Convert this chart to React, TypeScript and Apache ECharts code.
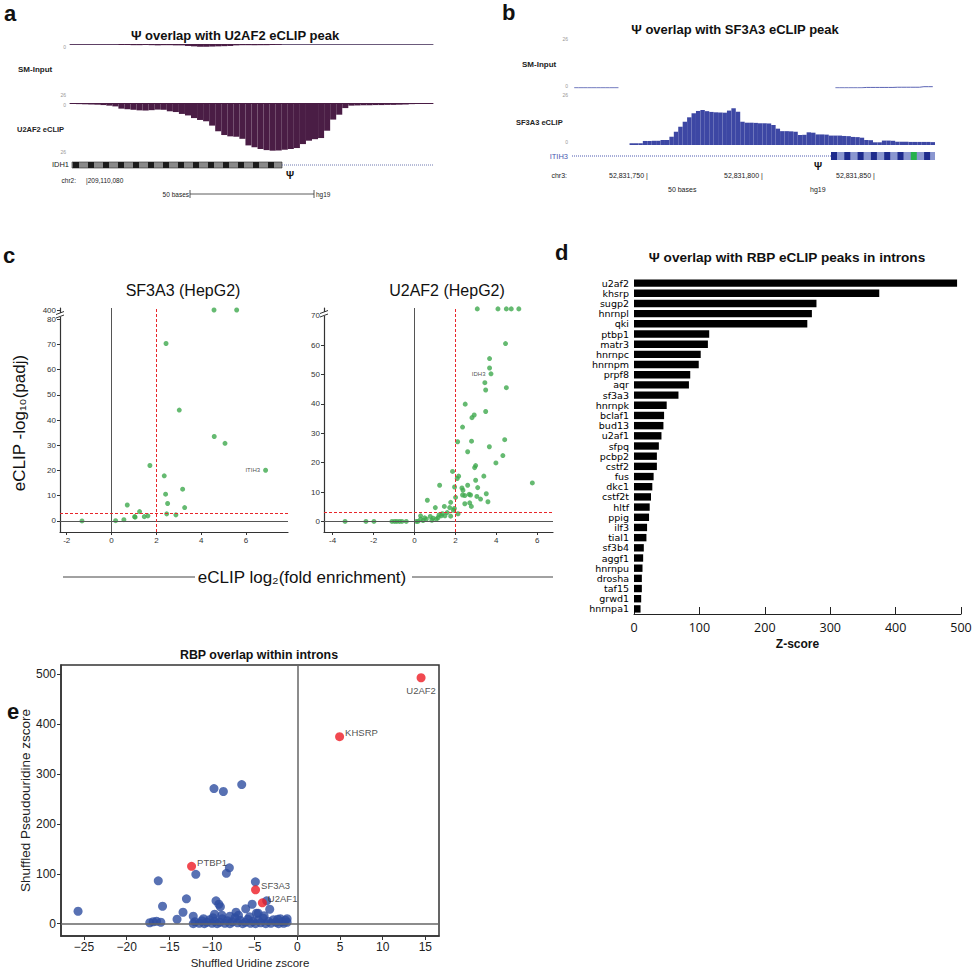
import React, { useEffect, useRef } from "react";
import * as echarts from "echarts";

const W = 975;
const H = 971;
const ARIAL = "'Liberation Sans', Arial, Helvetica, sans-serif";
const MYRIAD = "'Open Sans', 'Noto Sans', sans-serif";
const WIDE = "'DejaVu Sans', Verdana, sans-serif";
const GREEN = "#3fa94e";

// ---------- Panel a: U2AF2 browser tracks (read depth per 2-base bin, scale 0-26) ----------
const aInputDepth = [
  0.2, 0.2, 0.2, 0.2, 0.2, 0.2, 0.2, 0.2,
  0.5, 0.5, 0.6, 0.6, 0.5, 0.6, 0.7, 0.6, 0.6, 0.7, 0.7,
  1.0, 1.2, 1.4, 1.4, 1.3, 1.2, 1.1, 1.0,
  0.7, 0.6, 0.6, 0.7, 0.6, 0.6, 0.5, 0.4,
  0, 0, 0, 0, 0, 0, 0, 0, 0, 0, 0, 0, 0, 0, 0, 0, 0, 0, 0, 0, 0, 0, 0, 0, 0,
];
const aClipDepth = [
  0.5, 0.6, 0.7, 0.8, 0.9, 1.1, 1.4, 1.8, 3.0, 3.3,
  3.6, 3.9, 4.0, 3.8, 3.5, 3.6, 4.4, 4.8, 5.8, 6.6,
  8.0, 9.0, 9.7, 12.0, 15.0, 17.0, 17.7, 17.9, 19.0, 22.5,
  23.5, 24.4, 25.0, 25.3, 25.2, 24.8, 24.4, 23.9, 21.8, 20.0,
  19.2, 18.6, 14.7, 8.8, 6.2, 2.7, 1.4, 1.3, 1.2, 1.2,
  1.1, 1.1, 1.0, 1.0, 0.9, 0.8, 0.6, 0.5, 0.2, 0.1,
];

// ---------- Panel b: SF3A3 browser tracks ----------
const N = null;
const bInputSignal = [
  0.1, 0.1, 0.1, 0.1, 0.1, 0.1, 0.1, 0.1, 0.1, 0.1, 0.1,
  N, N, N, N, N, N, N, N, N, N, N, N, N, N, N, N, N, N, N, N, N, N, N, N,
  N, N, N, N, N, N, N, N, N, N, N, N, N, N, N, N, N, N, N, N, N, N, N, N,
  0.1, 0.1, 0.1, 0.1, 0.1, 0.1, 0.1, 0.3, 0.3, 0.3, 0.3, 0.3, 0.3, 0.3,
  0.4, 0.4, 0.4, 0.4, 0.4, 0.4, 0.7, 0.7, 0.7,
];
const bClipSignal = [
  N, N, N, N, N, N, N, N, N, N, N, N, N,
  0.9, 0.9, 0.9, 2.1, 2.1, 2.2, 2.2, 2.6, 2.6,
  4.3, 6.9, 9.5, 12.1, 14.4, 16.5, 17.7, 18.2, 17.6, 17.2, 17.0, 16.9, 16.8, 17.9, 19.1, 17.3, 12.1,
  11.6, 11.6, 11.5, 11.3, 11.3, 11.2, 10.4, 8.5, 7.2, 7.2, 7.1, 6.9, 5.2, 5.3, 6.6, 6.4,
  5.5, 5.5, 5.4, 4.9, 4.9, 4.9, 4.7, 4.6, 4.2, 4.1, 3.8, 2.6, 2.5, 1.4, 1.4,
  2.3, 2.3, 2.2, 1.7, 1.7, 1.7, 1.6, 1.6, 1.6, 1.6, 1.6, 1.5,
];

// ---------- Panel c: volcano plots ----------
const sf3a3Fold = [4.57, 5.58, 2.43, 3.02, 4.58, 5.06, 6.87, 1.71, 2.35, 3.17, 2.41, 0.70, 2.50, 3.26, 1.25, 2.46, 2.87, 1.03, 1.46, 1.62, 0.55, 0.18, -1.32, 1.05];
const sf3a3Padj = [400, 400, 70.4, 44.0, 33.5, 30.8, 20.1, 22.0, 17.9, 12.6, 10.6, 6.3, 6.9, 5.3, 3.7, 2.8, 2.4, 1.7, 1.7, 2.0, 0.5, 0.1, 0, 1.5];
const sf3a3LabelIndex = 6; // ITIH3
const u2af2Fold = [
  3.07, 4.08, 4.49, 4.73, 5.10, 4.45, 3.67, 3.67, 3.74, 3.44, 3.48, 4.49, 2.48, 3.48, 2.92, 2.81, 2.35, 2.11, 2.79, 4.41,
  3.66, 2.60, 4.32, 3.98, 2.99, 2.94, 1.86, 2.16, 2.09, 3.39, 2.99, 5.76, 1.23, 2.60, 3.09, 1.96, 2.32, 2.37, 3.51, 2.67,
  2.35, 2.46, 2.74, 3.05, 3.23, 3.59, 0.63, 2.01, 2.70, 2.78, 2.46, 1.77, 1.46, 1.02, 1.72, 1.95, 2.13, 1.77, 1.49, 1.31,
  1.15, 0.91, 0.77, 0.58, 0.30, 0.42, 0.17, 0.09, 1.36, 1.07, 0.30, -3.39, -2.37, -1.98, -1.10, -0.97, -0.86, -0.73, -0.61, -0.40,
  0.5, 1.9, 1.6, 0.85, 1.2,
];
const u2af2Padj = [
  400, 400, 400, 400, 400, 60.5, 55.4, 52.2, 50.2, 47.2, 44.7, 45.5, 39.9, 37.4, 36.2, 35.3, 32.1, 27.1, 27.3, 27.8,
  25.4, 23.7, 22.4, 19.9, 19.0, 18.3, 17.0, 15.4, 14.6, 15.4, 14.0, 13.1, 12.3, 12.3, 11.5, 11.7, 11.4, 10.6, 9.4, 9.2,
  9.0, 8.8, 9.0, 8.5, 7.6, 6.7, 7.2, 8.2, 6.3, 5.1, 6.0, 6.5, 5.1, 4.7, 4.7, 4.4, 2.6, 1.8, 1.9, 1.9,
  1.25, 1.1, 1.7, 0.8, 0.8, 0.3, 0, 0, 2.6, 0.8, 1.9, 0, 0, 0, 0, 0, 0, 0, 0, 0,
  1.2, 3.8, 3.0, 0.4, 2.2,
];
const u2af2LabelIndex = 8; // IDH3
const foldTicksLeft = [-2, 0, 2, 4, 6];
const foldTicksRight = [-4, -2, 0, 2, 4, 6];
const padjTicksLeft = [0, 10, 20, 30, 40, 50, 60, 70, 80];
const padjTicksRight = [0, 10, 20, 30, 40, 50, 60, 70];
const padjBreakValue = 400;

// ---------- Panel d: bar chart ----------
const rbpNames = [
  "u2af2", "khsrp", "sugp2", "hnrnpl", "qki", "ptbp1", "matr3", "hnrnpc", "hnrnpm", "prpf8", "aqr",
  "sf3a3", "hnrnpk", "bclaf1", "bud13", "u2af1", "sfpq", "pcbp2", "cstf2", "fus", "dkc1", "cstf2t",
  "hltf", "ppig", "ilf3", "tial1", "sf3b4", "aggf1", "hnrnpu", "drosha", "taf15", "grwd1", "hnrnpa1",
];
const rbpZ = [
  494, 375, 279, 272, 265, 115, 113, 102, 99, 86, 84,
  68, 50, 46, 45, 42, 38, 35, 35, 30, 28, 26,
  24, 23, 20, 19, 15, 14, 13, 12, 12, 11, 10,
];

// ---------- Panel e: scatter ----------
const blueUridine = [
  -9.77, -8.67, -6.52, -7.97, -8.32, -11.9, -16.3, -4.92, -13.0, -9.53, -9.02, -15.8, -25.7, -13.4, -14.1, -5.3,
  -6.05, -3.6, -3.24, -7.19, -4.8, -9.7, -12.2, -9.2, -8.85, -7.9, -4.6,
  -17.3, -16.9, -16.5, -16.0, -12.2, -12.0, -11.5, -11.2, -10.9, -10.6, -10.3, -10.0, -9.7, -9.4, -9.1, -8.8,
  -8.5, -8.2, -7.9, -7.6, -7.3, -7.0, -6.7, -6.4, -6.1, -5.8, -5.5, -5.2, -4.9, -4.6, -4.3, -4.0, -3.7, -3.4,
  -3.1, -2.8, -2.5, -2.2, -2.0, -1.8, -1.6, -1.4, -1.2, -1.2, -11.0, -9.9, -6.9, -5.6, -3.9, -2.3,
];
const bluePseudo = [
  271, 265, 279, 112, 101, 99, 86, 84, 50, 46, 34, 35, 25, 23, 9, 39,
  30, 46, 29, 23, 21, 19, 15, 39, 17, 15, 21,
  2, 4, 5, 3, 0, 4, 1, 6, 0, 3, 8, 1, 5, 0, 3, 10,
  1, 6, 0, 4, 12, 2, 7, 0, 3, 9, 1, 5, 0, 7, 2, 11, 0, 5,
  1, 8, 3, 0, 10, 4, 1, 7, 3, 10, 10, 12, 17, 14, 16, 9,
];
const redNames = ["U2AF2", "KHSRP", "PTBP1", "SF3A3", "U2AF1"];
const redUridine = [14.5, 4.95, -12.4, -4.9, -4.1];
const redPseudo = [493, 375, 115, 68, 42];
const uridineTicks = [-25, -20, -15, -10, -5, 0, 5, 10, 15];
const pseudoTicks = [0, 100, 200, 300, 400, 500];

// ---------- helpers ----------
function T(x: number, y: number, text: string, size: number, opt: any = {}) {
  return {
    type: "text",
    x,
    y,
    rotation: opt.rotation || 0,
    silent: true,
    z: 20,
    style: {
      text,
      fill: opt.fill || "#111",
      fontSize: size,
      fontFamily: opt.family || ARIAL,
      fontWeight: opt.weight || "normal",
      align: opt.align || "left",
      verticalAlign: "middle",
    },
  };
}
function L(x1: number, y1: number, x2: number, y2: number, stroke = "#333", lineWidth = 1, dash?: number[]) {
  return {
    type: "line",
    silent: true,
    z: 15,
    shape: { x1, y1, x2, y2 },
    style: { stroke, lineWidth, lineDash: dash },
  };
}
function R(x: number, y: number, w: number, h: number, fill: string, stroke?: string) {
  return {
    type: "rect",
    silent: true,
    z: 15,
    shape: { x, y, width: w, height: h },
    style: { fill, stroke: stroke || null, lineWidth: stroke ? 0.6 : 0 },
  };
}

const brk = (v: number, cap: number, pos: number) => (v > cap ? pos : v);

function buildOption(): any {
  const LEFT_BREAK = 83.7;
  const RIGHT_BREAK = 72.3;
  const idx = (arr: any[]) => arr.map((_, i) => String(i));

  const hiddenCat = (gridIndex: number, data: string[], showLine: boolean, color = "#5b3a5b") => ({
    gridIndex,
    type: "category",
    data,
    boundaryGap: true,
    axisLine: { show: showLine, onZero: true, lineStyle: { color, width: 1 } },
    axisTick: { show: false },
    axisLabel: { show: false },
    splitLine: { show: false },
  });
  const hiddenVal = (gridIndex: number, inverse: boolean) => ({
    gridIndex,
    type: "value",
    min: 0,
    max: 26,
    inverse,
    show: false,
    splitLine: { show: false },
  });

  const cAxisLine = { show: true, onZero: false, lineStyle: { color: "#333", width: 1.2 } };
  const cLabel = { fontSize: 8, color: "#333", fontFamily: ARIAL, margin: 4 };

  const cMarkLine = {
    silent: true,
    symbol: ["none", "none"],
    label: { show: false },
    animation: false,
    data: [
      { xAxis: 0, lineStyle: { color: "#555", type: "solid", width: 1 } },
      { yAxis: 0, lineStyle: { color: "#555", type: "solid", width: 1 } },
      { xAxis: 2, lineStyle: { color: "#e8262a", type: [3, 2], width: 1 } },
      { yAxis: 3, lineStyle: { color: "#e8262a", type: [3, 2], width: 1 } },
    ],
  };

  const trackText = { fill: "#222" };

  const graphics: any[] = [
    // panel letters
    T(4, 13, "a", 22, { weight: "bold" }),
    T(502, 12, "b", 22, { weight: "bold" }),
    T(3, 255, "c", 22, { weight: "bold" }),
    T(555, 252, "d", 22, { weight: "bold" }),
    T(7, 711, "e", 22, { weight: "bold" }),

    // panel a
    T(235, 35, "Ψ overlap with U2AF2 eCLIP peak", 13, { weight: "bold", align: "center" }),
    T(18, 69, "SM-Input", 8, { ...trackText, weight: "bold" }),
    T(17, 129, "U2AF2 eCLIP", 7.5, { ...trackText, weight: "bold" }),
    T(66, 47, "0", 5, { align: "right", fill: "#999" }),
    T(66, 95, "26", 5, { align: "right", fill: "#999" }),
    T(66, 105, "0", 5, { align: "right", fill: "#999" }),
    T(66, 152, "26", 5, { align: "right", fill: "#999" }),
    T(69, 164, "IDH1", 7.5, { ...trackText, align: "right" }),
    R(72, 162, 210, 6, "#8a8a8a", "#2a2a2a"),
    L(282, 165, 433, 165, "#6e78b0", 1, [1, 1]),
    T(290, 175, "Ψ", 10, { weight: "bold", align: "center" }),
    T(76, 180, "chr2:", 6.5, { ...trackText, align: "right" }),
    T(86, 180, "|209,110,080", 6.5, trackText),
    T(189, 194, "50 bases", 6.5, { ...trackText, align: "right" }),
    L(190, 194, 314, 194, "#333", 0.8),
    L(190, 190, 190, 198, "#333", 0.8),
    L(314, 190, 314, 198, "#333", 0.8),
    T(316, 194, "hg19", 6.5, trackText),

    // panel b
    T(735, 29, "Ψ overlap with SF3A3 eCLIP peak", 13, { weight: "bold", align: "center" }),
    T(522, 64, "SM-Input", 8, { ...trackText, weight: "bold" }),
    T(516, 122, "SF3A3 eCLIP", 7.5, { ...trackText, weight: "bold" }),
    T(568, 39, "26", 5, { align: "right", fill: "#999" }),
    T(568, 86, "0", 5, { align: "right", fill: "#999" }),
    T(568, 95, "26", 5, { align: "right", fill: "#999" }),
    T(568, 142, "0", 5, { align: "right", fill: "#999" }),
    T(568, 156, "ITIH3", 7.5, { align: "right", fill: "#4a58b0" }),
    L(572, 156, 831, 156, "#4e5bb0", 1, [1, 1]),
    R(831, 152, 104, 8, "#8b97d0"),
    T(818, 166, "Ψ", 10, { weight: "bold", align: "center" }),
    T(567, 175, "chr3:", 7, { ...trackText, align: "right" }),
    T(609, 175, "52,831,750 |", 7, trackText),
    T(724, 175, "52,831,800 |", 7, trackText),
    T(836, 175, "52,831,850 |", 7, trackText),
    T(668, 189, "50 bases", 7, trackText),
    T(810, 189, "hg19", 7, trackText),

    // panel c
    T(183, 290, "SF3A3 (HepG2)", 16, { align: "center" }),
    T(447, 290, "U2AF2 (HepG2)", 16, { align: "center" }),
    T(19, 423, "eCLIP -log₁₀(padj)", 17, { align: "center", rotation: Math.PI / 2 }),
    T(302, 577, "eCLIP log₂(fold enrichment)", 17, { align: "center" }),
    L(63, 577, 195, 577, "#444", 1),
    L(412, 577, 553, 577, "#444", 1),
    R(57, 313, 7, 4, "#fff"),
    L(56, 314.5, 64, 311.5, "#333", 1),
    L(56, 318, 64, 315, "#333", 1),
    R(321, 312, 7, 4, "#fff"),
    L(320, 313.5, 328, 310.5, "#333", 1),
    L(320, 317, 328, 314, "#333", 1),

    // panel d
    T(787, 257, "Ψ overlap with RBP eCLIP peaks in introns", 13.6, { weight: "bold", align: "center" }),

    // panel e
    T(259, 655, "RBP overlap within introns", 12.4, { weight: "bold", align: "center" }),
  ];

  // gene model exon pattern, panel a (14 dark codon blocks) and panel b (8 blocks)
  for (let k = 0; k < 14; k++) graphics.push(R(73 + 15 * k, 162, 6, 6, "#1c1c1c"));
  for (let k = 0; k < 8; k++) graphics.push(R(831 + 13.3 * k, 152, 6, 8, k === 6 ? "#27b14c" : "#1e2b8c"));

  return {
    animation: false,
    backgroundColor: "#fff",
    textStyle: { fontFamily: ARIAL },
    grid: [
      { left: 70, top: 44, width: 363, height: 51 },
      { left: 70, top: 103, width: 363, height: 49 },
      { left: 572, top: 39, width: 363, height: 49 },
      { left: 572, top: 95, width: 363, height: 50 },
      { left: 60, top: 308, width: 228, height: 224 },
      { left: 324, top: 308, width: 229, height: 224 },
      { left: 634, top: 278, width: 327, height: 336 },
      { left: 61, top: 665, width: 378, height: 271, show: true, borderColor: "#333", borderWidth: 1.5 },
    ],
    xAxis: [
      hiddenCat(0, idx(aInputDepth), true, "#6b5a7b"),
      hiddenCat(1, idx(aClipDepth), true, "#4a1d45"),
      hiddenCat(2, idx(bInputSignal), false),
      hiddenCat(3, idx(bClipSignal), false),
      {
        gridIndex: 4, type: "value", min: -2.3, max: 7.87,
        axisLine: cAxisLine,
        axisTick: { show: true, length: 3, customValues: foldTicksLeft, lineStyle: { color: "#333" } },
        axisLabel: { ...cLabel, customValues: foldTicksLeft },
        splitLine: { show: false },
      },
      {
        gridIndex: 5, type: "value", min: -4.42, max: 6.77,
        axisLine: cAxisLine,
        axisTick: { show: true, length: 3, customValues: foldTicksRight, lineStyle: { color: "#333" } },
        axisLabel: { ...cLabel, customValues: foldTicksRight },
        splitLine: { show: false },
      },
      {
        gridIndex: 6, type: "value", min: 0, max: 500, interval: 100,
        axisLine: { show: true, lineStyle: { color: "#222", width: 1 } },
        axisTick: { show: true, inside: true, length: 7, lineStyle: { color: "#222" } },
        axisLabel: { fontSize: 12.5, color: "#111", fontFamily: MYRIAD, margin: 7 },
        splitLine: { show: false },
        name: "Z-score", nameLocation: "middle", nameGap: 24,
        nameTextStyle: { fontSize: 12, fontWeight: "bold", color: "#111", fontFamily: ARIAL },
      },
      {
        gridIndex: 7, type: "value", min: -27.7, max: 16.6,
        axisLine: { show: true, onZero: false, lineStyle: { color: "#333", width: 1.5 } },
        axisTick: { show: true, length: 4, customValues: uridineTicks, lineStyle: { color: "#333" } },
        axisLabel: {
          customValues: uridineTicks, fontSize: 12, color: "#222", fontFamily: ARIAL, margin: 5,
          formatter: (v: number) => String(v).replace("-", "\u2212"),
        },
        splitLine: { show: false },
        name: "Shuffled Uridine zscore", nameLocation: "middle", nameGap: 21,
        nameTextStyle: { fontSize: 11.5, color: "#222", fontFamily: ARIAL },
      },
    ],
    yAxis: [
      hiddenVal(0, true),
      hiddenVal(1, true),
      hiddenVal(2, false),
      hiddenVal(3, false),
      {
        gridIndex: 4, type: "value", min: -4.4, max: 84.5,
        axisLine: cAxisLine,
        axisTick: { show: true, length: 3, customValues: [...padjTicksLeft, LEFT_BREAK], lineStyle: { color: "#333" } },
        axisLabel: {
          ...cLabel, customValues: [...padjTicksLeft, LEFT_BREAK],
          formatter: (v: number) => (v > 80.5 ? String(padjBreakValue) : String(v)),
        },
        splitLine: { show: false },
      },
      {
        gridIndex: 5, type: "value", min: -3.6, max: 72.6,
        axisLine: cAxisLine,
        axisTick: { show: true, length: 3, customValues: [...padjTicksRight, RIGHT_BREAK], lineStyle: { color: "#333" } },
        axisLabel: {
          ...cLabel, customValues: [...padjTicksRight, RIGHT_BREAK],
          formatter: (v: number) => (v > 70.5 ? String(padjBreakValue) : String(v)),
        },
        splitLine: { show: false },
      },
      {
        gridIndex: 6, type: "category", data: rbpNames, inverse: true,
        axisLine: { show: false }, axisTick: { show: false },
        axisLabel: { interval: 0, fontSize: 9.5, color: "#000", fontFamily: WIDE, margin: 5, lineHeight: 10 },
      },
      {
        gridIndex: 7, type: "value", min: -24.6, max: 518.6,
        axisLine: { show: true, onZero: false, lineStyle: { color: "#333", width: 1.5 } },
        axisTick: { show: true, length: 4, customValues: pseudoTicks, lineStyle: { color: "#333" } },
        axisLabel: { customValues: pseudoTicks, fontSize: 12, color: "#222", fontFamily: ARIAL, margin: 5 },
        splitLine: { show: false },
        name: "Shuffled Pseudouridine zscore", nameLocation: "middle", nameGap: 28,
        nameTextStyle: { fontSize: 13.5, color: "#222", fontFamily: ARIAL },
      },
    ],
    series: [
      {
        type: "bar", xAxisIndex: 0, yAxisIndex: 0, data: aInputDepth,
        barCategoryGap: "0%", barGap: "0%", itemStyle: { color: "#4a1d45" }, silent: true,
      },
      {
        type: "bar", xAxisIndex: 1, yAxisIndex: 1, data: aClipDepth,
        barCategoryGap: "0%", barGap: "0%", itemStyle: { color: "#4a1d45" }, silent: true,
      },
      {
        type: "line", xAxisIndex: 2, yAxisIndex: 2, data: bInputSignal, connectNulls: false,
        symbol: "none", lineStyle: { color: "#5b64b4", width: 1 }, silent: true,
      },
      {
        type: "bar", xAxisIndex: 3, yAxisIndex: 3, data: bClipSignal,
        barCategoryGap: "0%", barGap: "0%", itemStyle: { color: "#3d47a4" }, silent: true,
      },
      {
        type: "scatter", xAxisIndex: 4, yAxisIndex: 4, symbolSize: 5, itemStyle: { color: GREEN },
        data: sf3a3Fold.map((x, i) => ({
          value: [x, brk(sf3a3Padj[i], 80, LEFT_BREAK)],
          label: i === sf3a3LabelIndex
            ? { show: true, formatter: "ITIH3", position: "left", distance: 3, fontSize: 6, color: "#222", fontFamily: ARIAL }
            : { show: false },
        })),
        markLine: cMarkLine,
        z: 3,
      },
      {
        type: "scatter", xAxisIndex: 5, yAxisIndex: 5, symbolSize: 5, itemStyle: { color: GREEN },
        data: u2af2Fold.map((x, i) => ({
          value: [x, brk(u2af2Padj[i], 70, RIGHT_BREAK)],
          label: i === u2af2LabelIndex
            ? { show: true, formatter: "IDH3", position: "left", distance: 3, fontSize: 6, color: "#222", fontFamily: ARIAL }
            : { show: false },
        })),
        markLine: cMarkLine,
        z: 3,
      },
      {
        type: "bar", xAxisIndex: 6, yAxisIndex: 6, data: rbpZ,
        barWidth: 7.4, itemStyle: { color: "#000" }, silent: true,
      },
      {
        type: "scatter", xAxisIndex: 7, yAxisIndex: 7, symbolSize: 9,
        itemStyle: { color: "#2e4ea0" },
        data: blueUridine.map((x, i) => [x, bluePseudo[i]]),
        markLine: {
          silent: true, symbol: ["none", "none"], label: { show: false }, animation: false,
          lineStyle: { color: "#666", type: "solid", width: 1.5 },
          data: [{ xAxis: 0 }, { yAxis: 0 }],
        },
        z: 2,
      },
      {
        type: "scatter", xAxisIndex: 7, yAxisIndex: 7, symbolSize: 9,
        itemStyle: { color: "#ee1c24" },
        data: redNames.map((name, i) => ({
          name,
          value: [redUridine[i], redPseudo[i]],
          label: {
            show: true,
            formatter: name,
            position: i === 0 ? "bottom" : "right",
            distance: i === 0 ? 3 : 1,
            offset: i === 0 ? [0, 0] : [0, -4],
            fontSize: 9.5,
            color: "#222",
            fontFamily: ARIAL,
          },
        })),
        z: 4,
      },
    ],
    graphic: graphics,
  };
}

export default function App() {
  const ref = useRef<HTMLDivElement>(null);
  useEffect(() => {
    const chart = echarts.init(ref.current as HTMLDivElement, null, { renderer: "svg", width: W, height: H });
    chart.setOption(buildOption());
    return () => chart.dispose();
  }, []);
  return (
    <div
      ref={ref}
      style={{ position: "absolute", left: 0, top: 0, width: W, height: H, background: "#fff" }}
    />
  );
}
